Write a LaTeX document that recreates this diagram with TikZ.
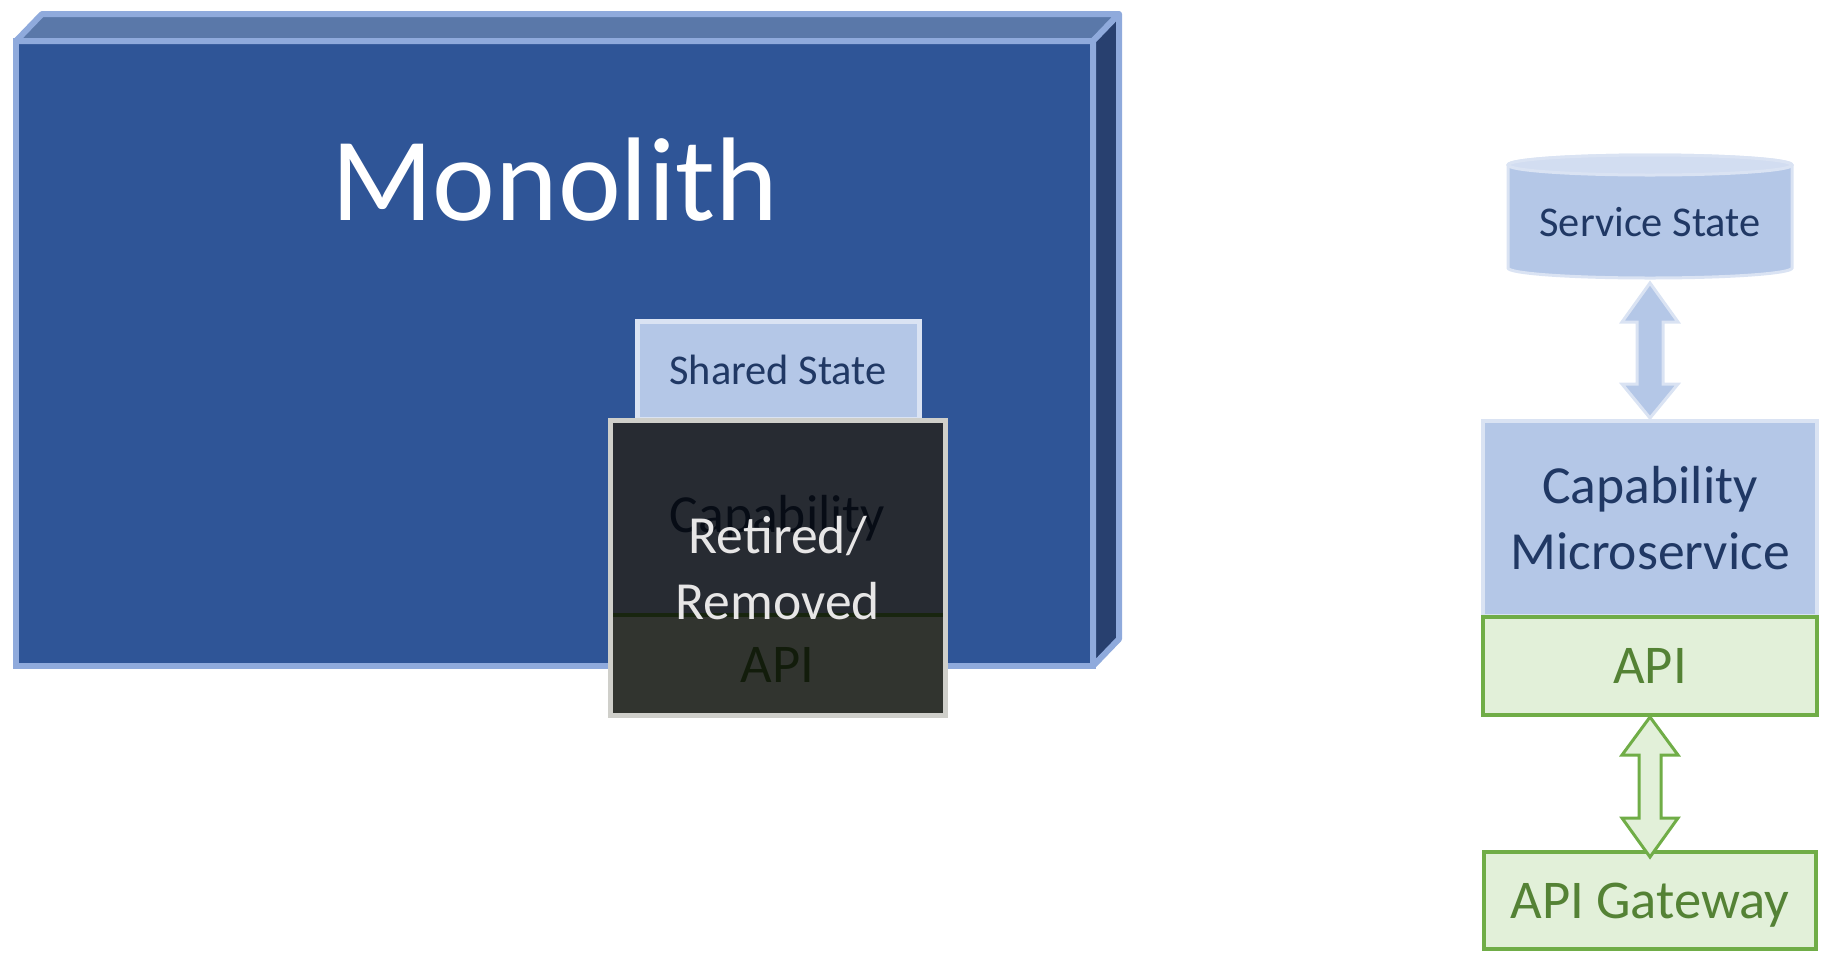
\documentclass[tikz,border=0pt]{standalone}
\usepackage{fontspec}
\setmainfont{Carlito}
\usetikzlibrary{calc}
\definecolor{monoFront}{HTML}{2F5597}
\definecolor{monoTop}{HTML}{5A78A9}
\definecolor{monoSide}{HTML}{28406F}
\definecolor{monoLine}{HTML}{8FAADC}
\definecolor{lbFill}{HTML}{B4C7E7}
\definecolor{lbLine}{HTML}{DAE3F3}
\definecolor{lbTop}{HTML}{D2DDF1}
\definecolor{navy}{HTML}{203864}
\definecolor{gFill}{HTML}{E2F0D9}
\definecolor{gLine}{HTML}{70AD47}
\definecolor{gText}{HTML}{548235}
\definecolor{retLine}{HTML}{CFCFCA}
\definecolor{retText}{HTML}{E7E6E6}
\begin{document}
\begin{tikzpicture}[x=0.5pt,y=-0.5pt,
 box/.style={rectangle, inner sep=0pt, outer sep=0pt, align=center},
 bluebox/.style={box, fill=lbFill, draw=lbLine, line width=2pt, text=navy},
 greenbox/.style={box, fill=gFill, draw=gLine, line width=2pt, text=gText, font=\fontsize{27.3pt}{33pt}\selectfont, text depth=0pt},
 capfont/.style={font=\fontsize{26.8pt}{33pt}\selectfont},
 smallfont/.style={font=\fontsize{21.2pt}{24pt}\selectfont},
 cubeface/.style={draw=monoLine, line width=3pt, line join=round},
 bluearrow/.style={fill=lbFill, draw=lbLine, line width=1.5pt, line join=miter},
 greenarrow/.style={fill=gFill, draw=gLine, line width=1.5pt, line join=miter},
]
\useasboundingbox (0,0) rectangle (1828,960);

% Monolith cube
\node[box, fill=monoFront, draw=monoLine, line width=3pt, minimum width=538.5pt, minimum height=312.5pt] (mono) at (554.5,353.5) {};
\draw[cubeface, fill=monoTop] (mono.north west) -- ++(26,-27) -- ($(mono.north east)+(26,-27)$) -- (mono.north east) -- cycle;
\draw[cubeface, fill=monoSide] (mono.north east) -- ++(26,-27) -- ($(mono.south east)+(26,-27)$) -- (mono.south east) -- cycle;
\node[anchor=base, text=white, font=\fontsize{59.5pt}{70pt}\selectfont, inner sep=0pt] (monotitle) at ($(mono.north)+(0,179)$) {Monolith};

% Shared state
\node[bluebox, smallfont, line width=2.5pt, minimum width=141pt, minimum height=49pt] (shared) at (778,370) {Shared State};

% Retired capability (hidden under overlay)
\node[bluebox, capfont, minimum width=167.5pt, minimum height=97.25pt] (oldcap) at (777.5,517.75) {Capability};
\node[greenbox, minimum width=167.5pt, minimum height=50pt] (oldapi) at (777.5,665) {API};
\node[box, fill=black, fill opacity=0.78, text opacity=1, draw=retLine, line width=2.5pt, text=retText, capfont, minimum width=167.75pt, minimum height=147.25pt] (retired) at (777.75,567.75) {Retired/\\Removed};

% Service state cylinder
\draw[fill=lbFill, draw=lbLine, line width=1.5pt] (1508,165) -- (1508,268) arc[start angle=180, end angle=360, x radius=71pt, y radius=5pt] -- (1792,165) arc[start angle=0, end angle=180, x radius=71pt, y radius=5pt] -- cycle;
\draw[fill=lbTop, draw=lbLine, line width=1.5pt] (1650,165) ellipse[x radius=71pt, y radius=5pt];
\node[box, smallfont, text=navy, text height=19.5pt, text depth=0pt, minimum width=142pt, minimum height=51.5pt] (serv) at (1650,216.5) {Service State};

% Microservice column
\node[bluebox, capfont, minimum width=167pt, minimum height=97.5pt] (cap) at (1650,518.5) {Capability\\Microservice};
\node[greenbox, minimum width=167pt, minimum height=49pt] (api) at (1650,666) {API};
\node[greenbox, minimum width=166pt, minimum height=48.5pt] (gw) at (1650,900.5) {API Gateway};

% Block arrows
\coordinate (t1) at ($(serv.south)+(0,15)$);
\coordinate (b1) at ($(cap.north)+(0,-3)$);
\draw[bluearrow] (t1) -- ($(t1)+(28,39)$) -- ($(t1)+(13,39)$) -- ($(b1)+(13,-34)$) -- ($(b1)+(28,-34)$) -- (b1) -- ($(b1)+(-28,-34)$) -- ($(b1)+(-13,-34)$) -- ($(t1)+(-13,39)$) -- ($(t1)+(-28,39)$) -- cycle;

\coordinate (t2) at ($(api.south)+(0,2)$);
\coordinate (b2) at ($(gw.north)+(0,5)$);
\draw[greenarrow] (t2) -- ($(t2)+(28,38)$) -- ($(t2)+(11,38)$) -- ($(b2)+(11,-39)$) -- ($(b2)+(28,-39)$) -- (b2) -- ($(b2)+(-28,-39)$) -- ($(b2)+(-11,-39)$) -- ($(t2)+(-11,38)$) -- ($(t2)+(-28,38)$) -- cycle;
\end{tikzpicture}
\end{document}
